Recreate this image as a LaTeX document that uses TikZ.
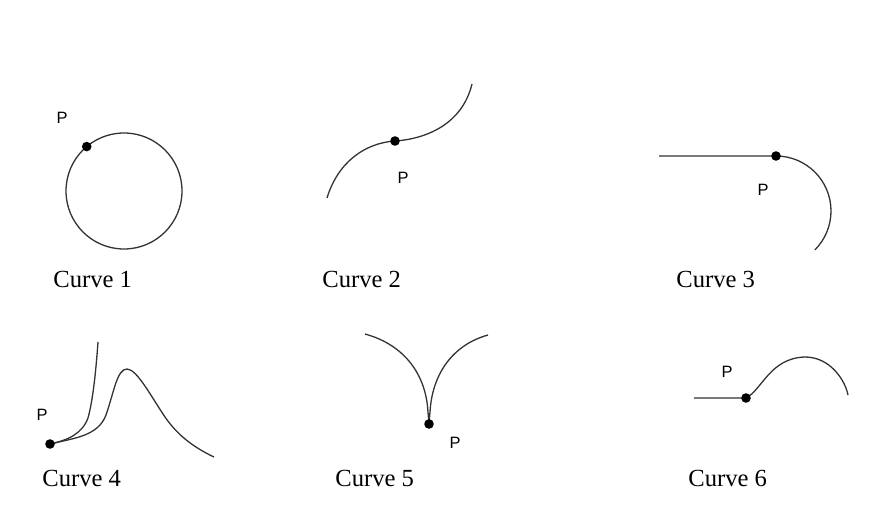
\documentclass[tikz,border=0pt]{standalone}
\usepackage{fontspec}
\setmainfont{Liberation Serif}
\newfontfamily\labelfont{Liberation Sans}
\usetikzlibrary{calc}

\tikzset{
  curve/.style={line width=0.65pt, black!80},
  pdot/.style={circle, fill=black, inner sep=0pt, minimum size=4.8pt},
  plabel/.style={font=\labelfont\fontsize{8.2}{10}\selectfont, inner sep=0pt},
  caption/.style={font=\fontsize{12.3}{14}\selectfont, anchor=base west, inner sep=0pt}
}

\begin{document}
\begin{tikzpicture}[x=0.5pt, y=-0.5pt]
  \useasboundingbox (0,0) rectangle (883,513);

  % Curve 1: closed circle
  \coordinate (c1) at (124,191);
  \draw[curve] (c1) circle[radius=29pt];
  \coordinate (p1) at ($(c1)+(130:29pt)$);
  \node[pdot] (dot1) at (p1) {};
  \node[plabel] (lp1) at (62,118) {P};
  \node[caption] (cap1) at (53,287) {Curve 1};

  % Curve 2: inflection at P
  \coordinate (p2) at (395,141);
  \draw[curve] (327,198) .. controls (338,162) and (365,143) .. (p2)
    .. controls (425,139) and (462,125) .. (472,84);
  \node[pdot] (dot2) at (p2) {};
  \node[plabel] (lp2) at (403,178) {P};
  \node[caption] (cap2) at (322,287) {Curve 2};

  % Curve 3: line joined to an arc
  \coordinate (p3) at (776,156);
  \draw[curve] (659,156) -- (p3) arc[start angle=90, end angle=-45, radius=27.5pt];
  \node[pdot] (dot3) at (p3) {};
  \node[plabel] (lp3) at (763,190) {P};
  \node[caption] (cap3) at (676,287) {Curve 3};

  % Curve 4: two branches leaving P
  \coordinate (p4) at (50,444);
  \draw[curve] (p4) .. controls (68,440) and (82,434) .. (88,418)
    .. controls (93,400) and (96,370) .. (98,342);
  \draw[curve] (p4) .. controls (75,438) and (98,436) .. (106,415)
    .. controls (114,392) and (117,369) .. (127,369)
    .. controls (137,369) and (152,398) .. (165,417)
    .. controls (178,436) and (195,448) .. (214,457);
  \node[pdot] (dot4) at (p4) {};
  \node[plabel] (lp4) at (42,415) {P};
  \node[caption] (cap4) at (42,486) {Curve 4};

  % Curve 5: cusp at P
  \coordinate (p5) at (429,424);
  \draw[curve] (365,334) .. controls (405,345) and (426,375) .. (428,412) -- (p5);
  \draw[curve] (488,335) .. controls (452,345) and (432,375) .. (430,412) -- (p5);
  \node[pdot] (dot5) at (p5) {};
  \node[plabel] (lp5) at (455,443) {P};
  \node[caption] (cap5) at (335,486) {Curve 5};

  % Curve 6: line then a hump
  \coordinate (p6) at (746,398);
  \draw[curve] (694,398) -- (p6) .. controls (762,390) and (770,358) .. (805,357)
    .. controls (830,357) and (845,380) .. (848,395);
  \node[pdot] (dot6) at (p6) {};
  \node[plabel] (lp6) at (727,372) {P};
  \node[caption] (cap6) at (688,486) {Curve 6};
\end{tikzpicture}
\end{document}
